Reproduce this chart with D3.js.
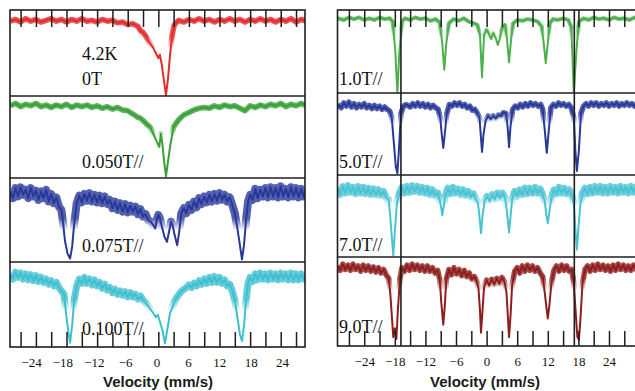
<!DOCTYPE html>
<html><head><meta charset="utf-8">
<script src="https://cdn.jsdelivr.net/npm/d3@7"></script>
<style>body{margin:0;background:#fff}svg{display:block}</style>
</head><body>
<svg id="c" width="635" height="391"></svg>
<script>
// ---- axis values ----
const tickValues = [-27,-24,-21,-18,-15,-12,-9,-6,-3,0,3,6,9,12,15,18,21,24,27];
const labelValues = [-24,-18,-12,-6,0,6,12,18,24];
const rightDividers = [-16.8, 17.2];
const xTitle = "Velocity (mm/s)";
const leftLabels = ["0T","0.050T//","0.075T//","0.100T//"];
const leftTopLabel = "4.2K";
const rightLabels = ["1.0T//","5.0T//","7.0T//","9.0T//"];

// ---- spectra: [velocity mm/s, relative transmission (0 = panel floor, 100 = panel top)] ----
const s4K0T = [[-29,87],[-28,89],[-27,86],[-26,90],[-25,87],[-24,89],[-23,86],[-22,88],[-21,90],[-20,87],[-19,89],[-18,86],[-17,89],[-16,87],[-15,90],[-14,87],[-13,88],[-12,86],[-11,89],[-10,87],[-9,88],[-8,85],[-7,86],[-6,83],[-5,84],[-4,81],[-3.5,76],[-3,74],[-2.5,70],[-2,64],[-1.5,60],[-1,56],[-0.5,50],[0,44],[0.3,48],[0.7,36],[1.1,18],[1.5,1],[1.9,20],[2.3,48],[2.7,70],[3.1,82],[3.6,86],[4,88],[5,86],[6,89],[7,87],[8,90],[9,87],[10,89],[11,86],[12,89],[13,87],[14,90],[15,87],[16,89],[17,86],[18,89],[19,87],[20,90],[21,87],[22,89],[23,86],[24,89],[25,87],[26,90],[27,86],[28,89],[29,87]];
const s0050T = [[-29,88],[-28,91],[-27,87],[-26,90],[-25,88],[-24,91],[-23,87],[-22,89],[-21,86],[-20,89],[-19,87],[-18,90],[-17,86],[-16,89],[-15,87],[-14,89],[-13,86],[-12,88],[-11,85],[-10,87],[-9,84],[-8,86],[-7,83],[-6,82],[-5,78],[-4,74],[-3.5,73],[-3,70],[-2.5,67],[-2,64],[-1.5,61],[-1,54],[-0.5,47],[0,40],[0.2,38],[0.5,54],[0.8,42],[1.1,22],[1.5,2],[1.9,20],[2.3,38],[2.7,52],[3,62],[3.5,67],[4,71],[4.5,74],[5,77],[6,80],[7,83],[8,85],[9,86],[10,85],[11,88],[12,86],[13,89],[14,87],[15,88],[16,85],[17,82],[17.5,85],[18,88],[19,86],[20,89],[21,87],[22,90],[23,88],[24,91],[25,87],[26,90],[27,88],[28,91],[29,88]];
const s0075T = [[-29,84],[-28.5,76],[-28,88],[-27.5,78],[-27,89],[-26.5,80],[-26,86],[-25.5,76],[-25,88],[-24.5,78],[-24,85],[-23.5,74],[-23,84],[-22.5,76],[-22,86],[-21.5,72],[-21,81],[-20.5,70],[-20,77],[-19.5,66],[-19,62],[-18.7,48],[-18.3,25],[-17.8,10],[-17.3,4],[-16.9,18],[-16.5,45],[-16,70],[-15.5,79],[-15,71],[-14.5,81],[-14,73],[-13.5,82],[-13,72],[-12.5,80],[-12,71],[-11.5,79],[-11,70],[-10.5,78],[-10,69],[-9.5,74],[-9,64],[-8.5,72],[-8,62],[-7.5,70],[-7,60],[-6.5,69],[-6,59],[-5.5,67],[-5,60],[-4.5,66],[-4,57],[-3.5,63],[-3,54],[-2.5,57],[-2,50],[-1.5,48],[-1,44],[-0.6,40],[-0.3,50],[0,56],[0.3,52],[0.7,42],[1.2,30],[1.7,24],[2.1,36],[2.5,48],[2.8,44],[3.2,32],[3.7,20],[4.1,36],[4.5,58],[5,64],[5.5,58],[6,68],[6.5,62],[7,72],[7.5,65],[8,76],[8.5,69],[9,78],[9.5,71],[10,80],[10.5,72],[11,81],[11.5,73],[12,82],[12.5,74],[13,80],[13.5,72],[14,77],[14.5,68],[15,58],[15.5,40],[16,20],[16.4,3],[16.8,20],[17.2,50],[17.6,72],[18,80],[18.5,74],[19,87],[19.5,76],[20,86],[20.5,78],[21,88],[21.5,77],[22,89],[22.5,78],[23,88],[23.5,77],[24,90],[24.5,78],[25,87],[25.5,77],[26,89],[26.5,78],[27,88],[27.5,77],[28,87],[28.5,78],[29,85]];
const s0100T = [[-29,86],[-28.5,80],[-28,88],[-27.5,82],[-27,87],[-26.5,80],[-26,86],[-25.5,79],[-25,85],[-24.5,78],[-24,84],[-23.5,77],[-23,82],[-22.5,76],[-22,80],[-21.5,74],[-21,78],[-20.5,72],[-20,76],[-19.5,70],[-19,66],[-18.5,62],[-18.1,40],[-17.7,20],[-17.3,5],[-16.9,25],[-16.5,55],[-16,72],[-15.5,80],[-15,75],[-14.5,82],[-14,75],[-13.5,80],[-13,73],[-12.5,79],[-12,72],[-11.5,76],[-11,69],[-10.5,74],[-10,67],[-9.5,70],[-9,64],[-8.5,68],[-8,62],[-7.5,66],[-7,61],[-6.5,65],[-6,59],[-5.5,64],[-5,59],[-4.5,62],[-4,56],[-3.5,60],[-3,55],[-2.5,52],[-2,48],[-1.5,44],[-1,40],[-0.5,35],[-0.1,38],[0.3,30],[0.8,20],[1.3,4],[1.8,22],[2.3,40],[2.8,47],[3.3,55],[3.8,60],[4.3,64],[4.8,67],[5.5,70],[6,73],[6.5,70],[7,75],[7.5,72],[8,78],[8.5,74],[9,80],[9.5,75],[10,82],[10.5,76],[11,83],[11.5,76],[12,82],[12.5,75],[13,79],[13.5,72],[14,74],[14.5,66],[15,55],[15.5,35],[16,15],[16.4,7],[16.8,25],[17.2,55],[17.6,75],[18,82],[18.5,77],[19,86],[19.5,79],[20,87],[20.5,80],[21,86],[21.5,79],[22,87],[22.5,80],[23,86],[23.5,79],[24,87],[24.5,80],[25,86],[25.5,79],[26,87],[26.5,79],[27,86],[27.5,79],[28,86],[28.5,80],[29,85]];
const s10T = [[-29.2,90],[-28,88],[-27,91],[-26,89],[-25,91],[-24,88],[-23,90],[-22,88],[-21,91],[-20,89],[-19,90],[-18.4,86],[-17.9,50],[-17.5,0],[-17.1,50],[-16.6,86],[-16,90],[-15,88],[-14,91],[-13,89],[-12,90],[-11,87],[-10,89],[-9.2,85],[-8.7,60],[-8.3,28],[-7.9,60],[-7.4,84],[-6.5,89],[-5.5,87],[-4.5,90],[-3.5,86],[-2.5,84],[-1.8,82],[-1.3,70],[-0.9,19],[-0.5,70],[0,76],[0.4,72],[0.9,65],[1.3,72],[1.8,66],[2.2,58],[2.6,66],[3,78],[3.6,82],[4,65],[4.4,37],[4.8,65],[5.2,84],[6,88],[7,87],[8,89],[9,88],[10,86],[10.8,80],[11.2,60],[11.6,36],[12,60],[12.4,84],[13,89],[14,88],[15,90],[16,88],[16.6,80],[17.1,0],[17.6,50],[18.1,86],[19,90],[20,88],[21,91],[22,89],[23,90],[24,88],[25,91],[26,89],[27,90],[28,88],[29,91],[30,89]];
const s50T = [[-29.2,86],[-28.5,82],[-28,88],[-27.5,84],[-27,89],[-26.5,83],[-26,87],[-25.5,82],[-25,86],[-24.5,83],[-24,87],[-23.5,82],[-23,85],[-22.5,81],[-22,85],[-21.5,81],[-21,84],[-20.5,80],[-20,83],[-19.5,80],[-19,78],[-18.6,70],[-18.2,40],[-17.8,10],[-17.5,2],[-17.2,30],[-16.8,75],[-16.3,84],[-15.8,86],[-15,83],[-14.5,87],[-14,84],[-13.5,88],[-13,84],[-12.5,87],[-12,83],[-11.5,86],[-11,82],[-10.5,85],[-10,82],[-9.5,80],[-9.1,70],[-8.8,50],[-8.5,33],[-8.2,50],[-7.8,75],[-7.3,86],[-6.8,84],[-6.3,88],[-5.8,85],[-5.3,88],[-4.8,84],[-4.3,86],[-3.8,82],[-3.3,84],[-2.8,79],[-2.3,80],[-1.8,75],[-1.4,70],[-1.1,45],[-0.9,28],[-0.6,50],[-0.2,66],[0.3,72],[0.8,68],[1.3,72],[1.8,69],[2.3,73],[2.8,72],[3.3,76],[3.8,75],[4.1,60],[4.4,34],[4.7,60],[5.1,80],[5.6,84],[6.1,82],[6.6,86],[7.1,83],[7.6,87],[8.1,84],[8.6,88],[9.1,85],[9.6,87],[10.1,84],[10.6,86],[11,80],[11.4,55],[11.8,27],[12.2,55],[12.6,82],[13.1,86],[13.6,84],[14.1,88],[14.6,85],[15.1,87],[15.6,84],[16.1,86],[16.6,82],[17.1,70],[17.4,30],[17.7,5],[18.1,30],[18.5,75],[19,84],[19.5,87],[20,84],[20.5,88],[21,85],[21.5,88],[22,84],[22.5,87],[23,85],[23.5,88],[24,84],[24.5,87],[25,85],[25.5,88],[26,84],[26.5,87],[27,85],[27.5,88],[28,85],[28.5,87],[29,84],[29.5,87],[30,85]];
const s70T = [[-29.2,84],[-28.7,76],[-28.2,86],[-27.7,78],[-27.2,87],[-26.7,79],[-26.2,85],[-25.7,77],[-25.2,86],[-24.7,78],[-24.2,85],[-23.7,77],[-23.2,84],[-22.7,76],[-22.2,83],[-21.7,76],[-21.2,82],[-20.7,75],[-20.2,80],[-19.7,72],[-19.2,70],[-18.9,50],[-18.6,25],[-18.3,2],[-18,30],[-17.6,65],[-17.1,78],[-16.6,85],[-16.1,78],[-15.6,86],[-15.1,79],[-14.6,87],[-14.1,80],[-13.6,86],[-13.1,79],[-12.6,85],[-12.1,78],[-11.6,84],[-11.1,76],[-10.6,82],[-10.1,75],[-9.6,78],[-9.2,70],[-8.9,60],[-8.7,51],[-8.4,62],[-8.1,74],[-7.6,84],[-7.1,77],[-6.6,85],[-6.1,78],[-5.6,83],[-5.1,76],[-4.6,82],[-4.1,75],[-3.6,80],[-3.1,73],[-2.6,77],[-2.1,70],[-1.7,66],[-1.4,50],[-1.1,29],[-0.8,50],[-0.4,68],[0.1,74],[0.6,68],[1.1,76],[1.6,70],[2.1,78],[2.6,72],[3.1,78],[3.6,72],[3.9,60],[4.2,42],[4.4,30],[4.7,50],[5,70],[5.5,80],[6,74],[6.5,82],[7,76],[7.5,84],[8,77],[8.5,84],[9,78],[9.5,85],[10,78],[10.5,83],[11,76],[11.4,68],[11.7,52],[12,41],[12.3,55],[12.7,72],[13.2,82],[13.7,77],[14.2,85],[14.7,78],[15.2,84],[15.7,77],[16.2,82],[16.7,75],[17.1,65],[17.4,35],[17.7,9],[18,35],[18.4,65],[18.8,78],[19.3,84],[19.8,77],[20.3,85],[20.8,78],[21.3,86],[21.8,79],[22.3,86],[22.8,78],[23.3,85],[23.8,78],[24.3,86],[24.8,79],[25.3,85],[25.8,78],[26.3,86],[26.8,79],[27.3,85],[27.8,78],[28.3,86],[28.8,79],[29.3,85],[30,80]];
const s90T = [[-29.2,90],[-28.7,85],[-28.2,92],[-27.7,86],[-27.2,91],[-26.7,85],[-26.2,92],[-25.7,86],[-25.2,90],[-24.7,84],[-24.2,91],[-23.7,85],[-23.2,90],[-22.7,84],[-22.2,89],[-21.7,83],[-21.2,88],[-20.7,82],[-20.2,86],[-19.7,80],[-19.2,76],[-18.9,60],[-18.6,35],[-18.3,10],[-18,20],[-17.7,8],[-17.4,40],[-17,75],[-16.6,88],[-16.1,84],[-15.6,91],[-15.1,85],[-14.6,92],[-14.1,86],[-13.6,91],[-13.1,85],[-12.6,90],[-12.1,84],[-11.6,90],[-11.1,84],[-10.6,88],[-10.1,82],[-9.6,85],[-9.2,75],[-8.9,50],[-8.5,24],[-8.2,45],[-7.9,75],[-7.4,86],[-6.9,80],[-6.4,88],[-5.9,81],[-5.4,86],[-4.9,79],[-4.4,85],[-3.9,78],[-3.4,82],[-2.9,75],[-2.4,78],[-1.9,72],[-1.6,65],[-1.3,40],[-1.1,15],[-0.8,40],[-0.5,66],[0,74],[0.5,68],[1,75],[1.5,69],[2,76],[2.5,70],[3,77],[3.5,72],[3.9,60],[4.2,30],[4.4,10],[4.7,35],[5,68],[5.5,84],[6,88],[6.5,82],[7,90],[7.5,84],[8,91],[8.5,85],[9,90],[9.5,84],[10,88],[10.5,82],[11,78],[11.4,60],[11.8,40],[12,31],[12.3,45],[12.7,70],[13.2,85],[13.7,90],[14.2,84],[14.7,91],[15.2,85],[15.7,90],[16.2,84],[16.7,86],[17.1,70],[17.5,35],[17.8,10],[18.1,7],[18.4,30],[18.8,70],[19.3,86],[19.8,90],[20.3,84],[20.8,91],[21.3,85],[21.8,92],[22.3,86],[22.8,91],[23.3,85],[23.8,90],[24.3,84],[24.8,91],[25.3,85],[25.8,92],[26.3,86],[26.8,91],[27.3,85],[27.8,90],[28.3,85],[28.8,91],[29.3,86],[30,89]];

// ---- layout ----
const blocks = [
  { id:"L", x0:10, x1:305, domain:[-29.08,28.76], labelRange:[31,282], ys:[10,96,178,262,347], titleX:158,
    labelX:82, dividers:[], offs:[11,10,10,12],
    panels:[
      {data:s4K0T, color:"#e52b2b", band:5.5, cut:55, label:leftLabels[0], extra:leftTopLabel},
      {data:s0050T, color:"#36a036", band:5.5, cut:50, label:leftLabels[1]},
      {data:s0075T, color:"#28389a", band:8, cut:38, label:leftLabels[2]},
      {data:s0100T, color:"#3ebfd0", band:7, cut:42, label:leftLabels[3]}
    ]},
  { id:"R", x0:337.5, x1:640, domain:[-29.24,30.08], labelRange:null, ys:[10,93,175,257,346], titleX:485,
    labelX:339, dividers:rightDividers, offs:[8,7,6,13],
    panels:[
      {data:s10T, color:"#4cb04c", band:4, cut:65, label:rightLabels[0]},
      {data:s50T, color:"#28389a", band:5.5, cut:62, label:rightLabels[1]},
      {data:s70T, color:"#48c3d3", band:7, cut:62, label:rightLabels[2]},
      {data:s90T, color:"#8e1d1d", band:5.5, cut:62, label:rightLabels[3]}
    ]}
];

const svg = d3.select("#c");
const defs = svg.append("defs");
const ink = "#1e1e1e";
const serif = "'Liberation Serif','Times New Roman',serif";

blocks.forEach(b => {
  const x = d3.scaleLinear().domain(b.domain).range([b.x0, b.x1]);
  const xl = b.labelRange ? d3.scaleLinear().domain([-24,24]).range(b.labelRange) : x;
  const g = svg.append("g");
  b.panels.forEach((p, i) => {
    const top = b.ys[i], bot = b.ys[i+1];
    const y = d3.scaleLinear().domain([0,100]).range([bot, top]);
    const line = d3.line().x(d => x(d[0])).y(d => y(d[1]));
    const cid = "clip" + b.id + i, mid = "mask" + b.id + i, gid = "grad" + b.id + i;
    defs.append("clipPath").attr("id", cid).append("rect")
      .attr("x", b.x0).attr("y", top).attr("width", b.x1 - b.x0).attr("height", bot - top);
    const grad = defs.append("linearGradient").attr("id", gid)
      .attr("gradientUnits","userSpaceOnUse")
      .attr("x1",0).attr("x2",0).attr("y1", y(p.cut + 14)).attr("y2", y(p.cut));
    grad.append("stop").attr("offset",0).attr("stop-color","#fff");
    grad.append("stop").attr("offset",1).attr("stop-color","#000");
    defs.append("mask").attr("id", mid).attr("maskUnits","userSpaceOnUse")
      .attr("x", b.x0).attr("y", top).attr("width", b.x1 - b.x0).attr("height", bot - top)
      .append("rect").attr("x", b.x0).attr("y", top).attr("width", b.x1 - b.x0).attr("height", bot - top)
      .attr("fill", `url(#${gid})`);
    // noisy baseline band (thick), fading out towards the absorption dips
    g.append("g").attr("clip-path", `url(#${cid})`).append("path").datum(p.data)
      .attr("mask", `url(#${mid})`)
      .attr("fill","none").attr("stroke", p.color).attr("stroke-width", p.band)
      .attr("stroke-opacity", 0.8)
      .attr("stroke-linejoin","round")
      .attr("d", line);
    // thin trace everywhere
    g.append("path").datum(p.data)
      .attr("clip-path", `url(#${cid})`)
      .attr("fill","none").attr("stroke", p.color).attr("stroke-width", 2)
      .attr("stroke-linejoin","round")
      .attr("d", line);
    g.append("text").attr("x", b.labelX).attr("y", bot - b.offs[i])
      .attr("font-family", serif).attr("font-size",18)
      .attr("fill","#111").text(p.label);
    if (p.extra) {
      g.append("text").attr("x", b.labelX).attr("y", bot - 36)
        .attr("font-family", serif).attr("font-size",18)
        .attr("fill","#111").text(p.extra);
    }
  });
  const top = b.ys[0], bot = b.ys[b.ys.length-1];
  g.append("rect").attr("x", b.x0).attr("y", top).attr("width", b.x1-b.x0).attr("height", bot-top)
    .attr("fill","none").attr("stroke", ink).attr("stroke-width",1.6);
  b.ys.slice(1,-1).forEach(yy => {
    g.append("line").attr("x1", b.x0).attr("x2", b.x1).attr("y1", yy).attr("y2", yy)
      .attr("stroke", ink).attr("stroke-width",1.6);
  });
  b.dividers.forEach(v => {
    g.append("line").attr("x1", x(v)).attr("x2", x(v)).attr("y1", top).attr("y2", bot)
      .attr("stroke", ink).attr("stroke-width",1.6);
  });
  const tTop = g.append("g").attr("transform", `translate(0,${top})`)
    .call(d3.axisBottom(x).tickValues(tickValues).tickSize(17).tickFormat(""));
  const tBot = g.append("g").attr("transform", `translate(0,${bot})`)
    .call(d3.axisTop(x).tickValues(tickValues).tickSize(15).tickFormat(""));
  [tTop, tBot].forEach(t => {
    t.select(".domain").remove();
    t.selectAll("line").attr("stroke", ink).attr("stroke-width",1.5);
  });
  const lab = g.append("g").attr("transform", `translate(0,${bot})`)
    .call(d3.axisBottom(xl).tickValues(labelValues).tickSize(0).tickPadding(11));
  lab.select(".domain").remove();
  lab.selectAll("text").attr("font-family", serif)
    .attr("font-size",13).attr("fill","#111");
  g.append("text").attr("x", b.titleX).attr("y", 387).attr("text-anchor","middle")
    .attr("font-family","'Liberation Sans',Arial,sans-serif").attr("font-weight","bold")
    .attr("font-size",15).attr("fill","#1a1a1a").text(xTitle);
});
</script>
</body></html>
